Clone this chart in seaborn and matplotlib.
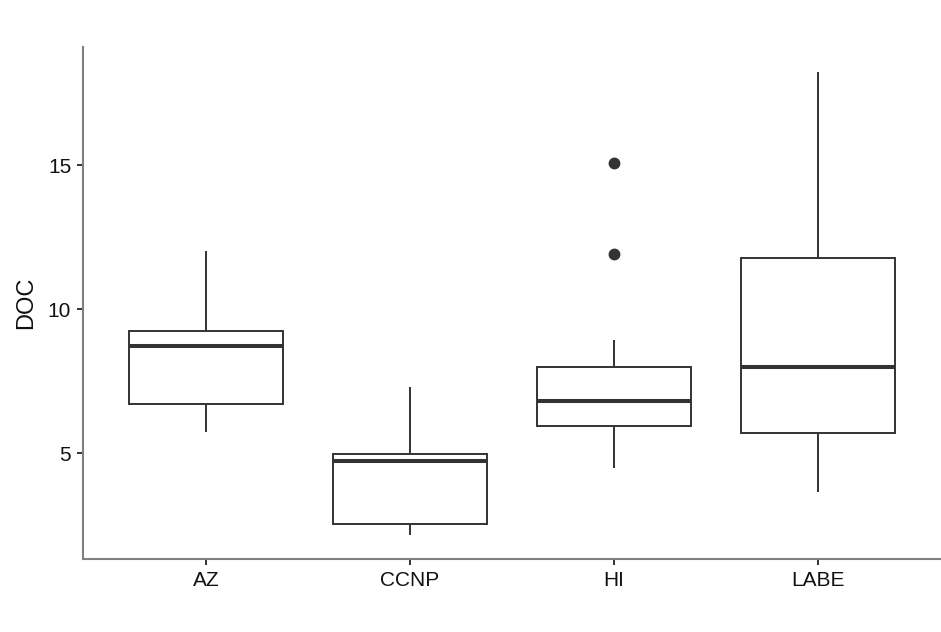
import numpy as np
import pandas as pd
import matplotlib
matplotlib.use("Agg")
import matplotlib.pyplot as plt
import seaborn as sns

# Values
sites = ["AZ", "CCNP", "HI", "LABE"]
whisker_low = [5.74, 2.15, 4.47, 3.64]
q1 = [6.70, 2.52, 5.95, 5.71]
median = [8.72, 4.72, 6.80, 7.98]
q3 = [9.25, 4.97, 7.98, 11.78]
whisker_high = [12.01, 7.29, 8.92, 18.24]
outliers = {"AZ": [], "CCNP": [], "HI": [11.90, 15.08], "LABE": []}
y_ticks = [5, 10, 15]

# Build observation table reproducing the summary statistics
rows = []
m = 20
for i, s in enumerate(sites):
    vals = [whisker_low[i]] + [q1[i]] * m + [median[i]] * m + [q3[i]] * m + [whisker_high[i]] + outliers[s]
    rows += [(s, v) for v in vals]
df = pd.DataFrame(rows, columns=["site", "DOC"])

sns.set_theme(style="white")
plt.rcParams["font.family"] = ["Liberation Sans", "DejaVu Sans"]

fig = plt.figure(figsize=(9.41, 6.32), dpi=100)
ax = fig.add_axes([83 / 941, 73 / 632, 1 - 83 / 941, (559 - 47) / 632])

line_c = "#333333"
sns.boxplot(
    data=df, x="site", y="DOC", order=sites, ax=ax,
    width=0.755, color="white", linecolor=line_c, linewidth=1.4,
    showcaps=False,
    medianprops=dict(color=line_c, linewidth=2.9),
    flierprops=dict(marker="o", markerfacecolor=line_c, markeredgecolor=line_c, markersize=7.5),
)
for p in ax.patches:
    p.set_facecolor("white")
    p.set_edgecolor(line_c)

ax.set_xlim(-0.603, 3.603)
ax.set_ylim(1.32, 19.1)
ax.set_yticks(y_ticks)
ax.set_yticklabels([str(t) for t in y_ticks])
ax.set_xlabel("")
ax.set_ylabel("DOC", fontsize=17, color="#111111", labelpad=8)

for side in ["top", "right"]:
    ax.spines[side].set_visible(False)
for side in ["left", "bottom"]:
    ax.spines[side].set_color("#808080")
    ax.spines[side].set_linewidth(1.5)

ax.tick_params(axis="both", which="major", length=4.5, width=1.4, color="#333333",
               labelsize=15, labelcolor="#111111", pad=4, left=True, bottom=True)
ax.set_facecolor("white")
fig.patch.set_facecolor("white")

fig.savefig("out.png", dpi=100)
